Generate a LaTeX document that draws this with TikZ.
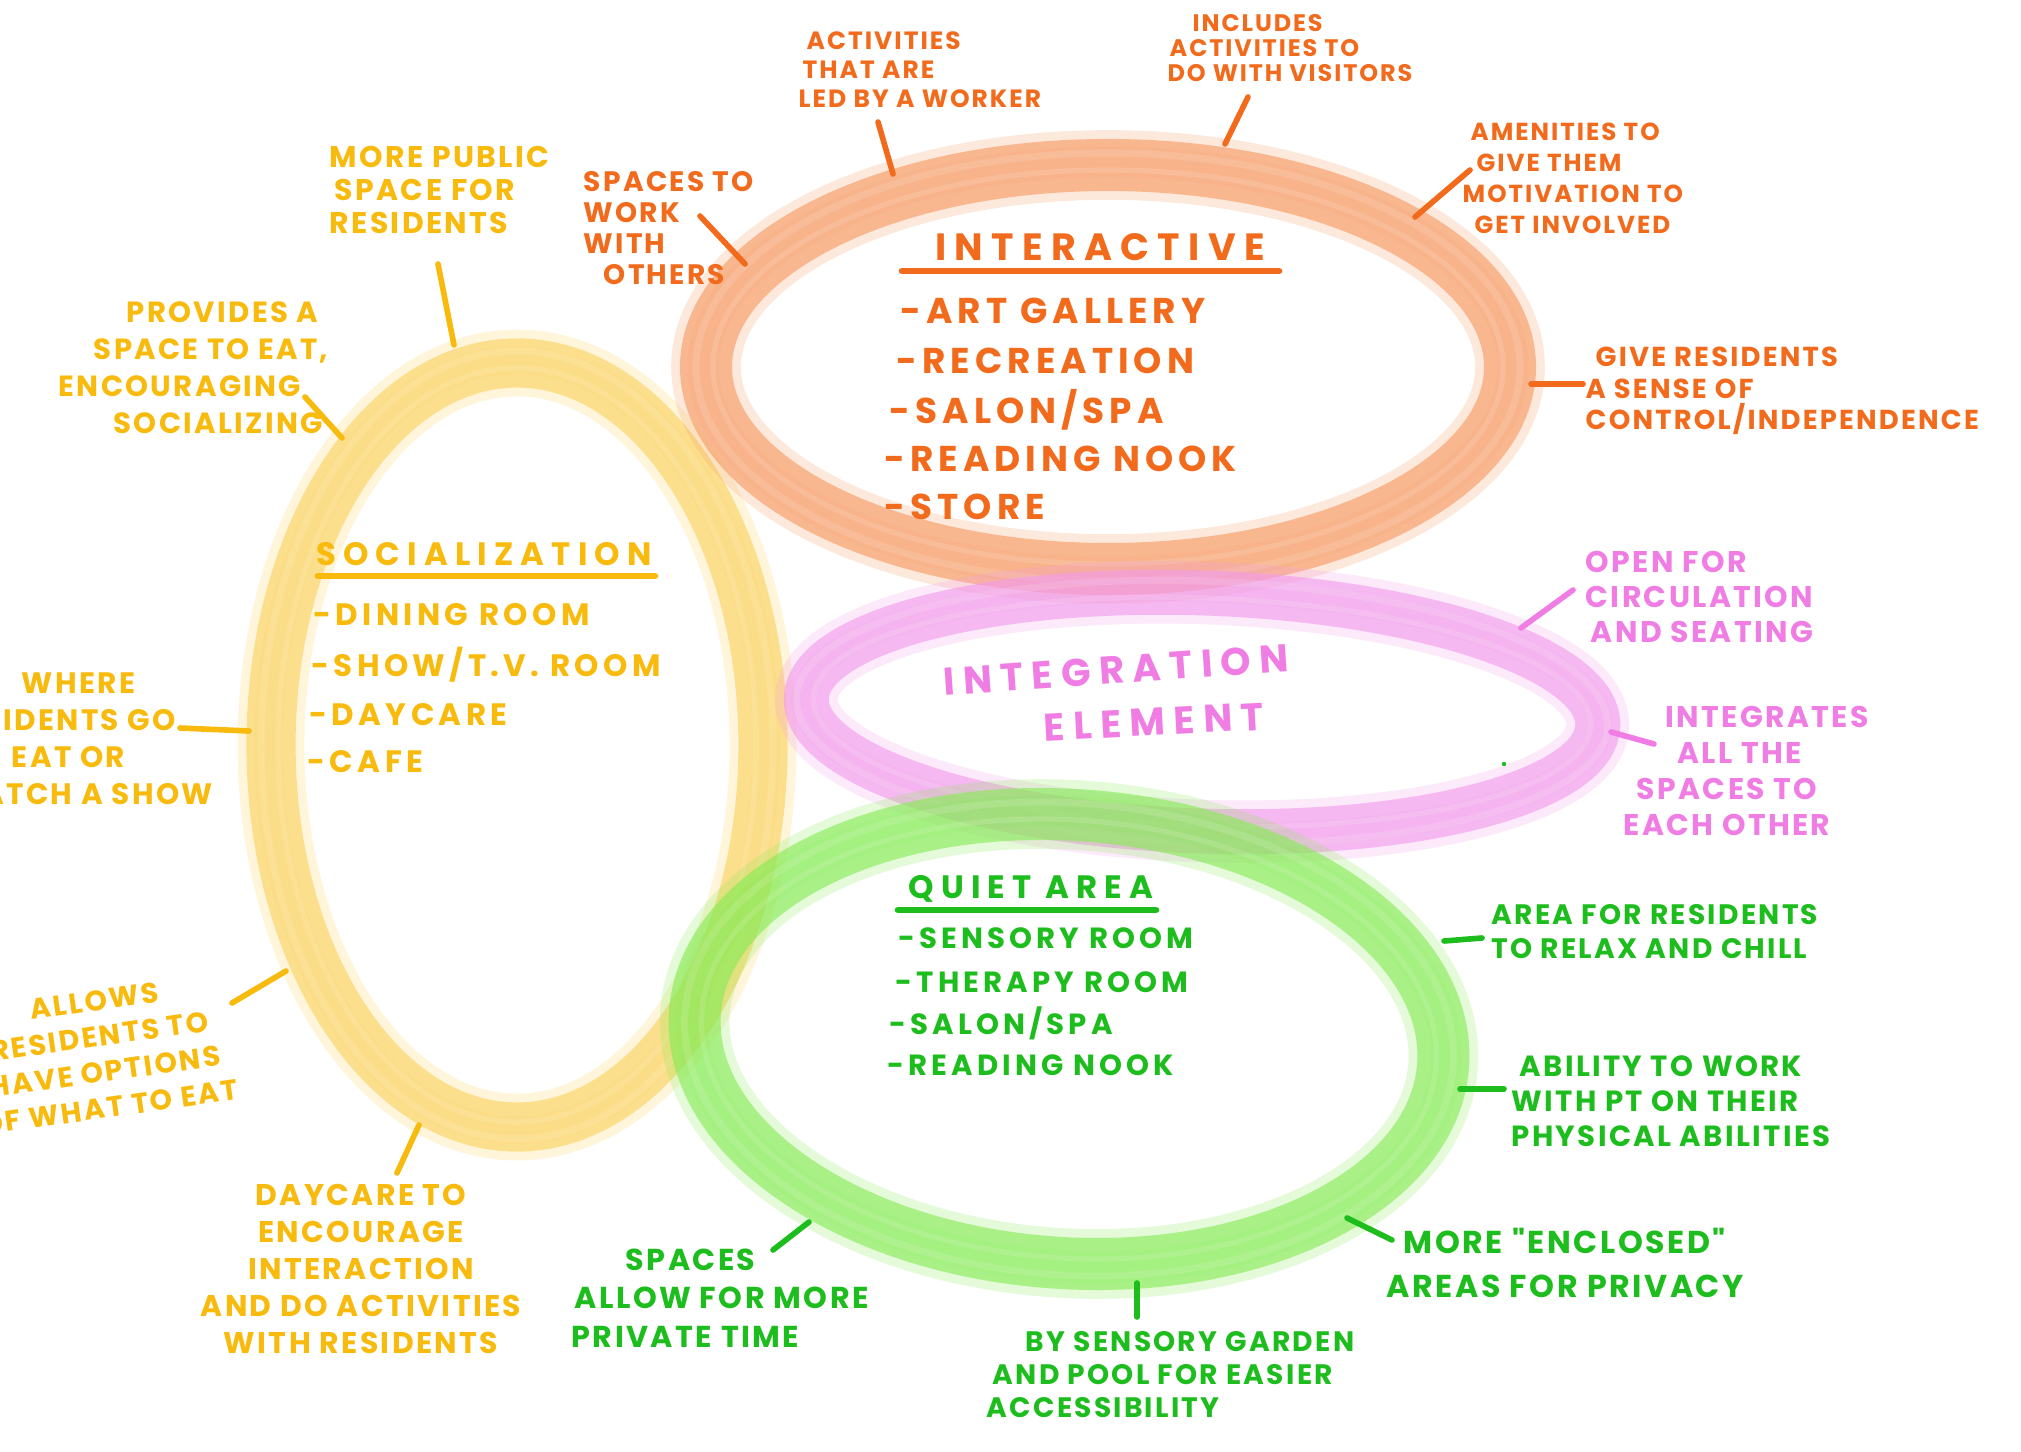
\documentclass[tikz,border=0pt]{standalone}
\usepackage{fontspec}
\setmainfont{Poppins}
\newfontfamily\handfont[LetterSpace=8]{Poppins}
\newfontfamily\listfont[LetterSpace=14]{Poppins}
\newfontfamily\headfont[LetterSpace=22]{Poppins}
\newcommand\labsz[2]{\handfont\bfseries\fontsize{#1}{#2}\selectfont}
\newcommand\listsz[1]{\listfont\bfseries\fontsize{#1}{#1}\selectfont}
\newcommand\headsz[1]{\headfont\bfseries\fontsize{#1}{#1}\selectfont}
\definecolor{ringY}{HTML}{FCD35E}
\definecolor{ringO}{HTML}{F79A62}
\definecolor{ringP}{HTML}{F39BEC}
\definecolor{ringG}{HTML}{86EC55}
\definecolor{txtY}{HTML}{F8BA0C}
\definecolor{txtO}{HTML}{F26A1C}
\definecolor{txtP}{HTML}{EF7DE3}
\definecolor{txtG}{HTML}{1EBD1E}
% crayon ring: colour, cx, cy, rx, ry, width (pt), rotation
\newcommand\crayonring[7]{%
  \begin{scope}[rotate around={#7:(#2,#3)}]
    \draw[#1, line width=#6pt+5pt, opacity=0.22] (#2,#3) ellipse [x radius=#4, y radius=#5];
    \draw[#1, line width=#6pt, opacity=0.62] (#2,#3) ellipse [x radius=#4, y radius=#5];
    \draw[#1, line width=#6pt-6pt, opacity=0.12] (#2,#3) ellipse [x radius=#4+3, y radius=#5+3];
    \draw[white, line width=2pt, opacity=0.12] (#2,#3) ellipse [x radius=#4+10, y radius=#5+12];
    \draw[white, line width=1.5pt, opacity=0.12] (#2,#3) ellipse [x radius=#4-7, y radius=#5-5];
  \end{scope}}
\tikzset{
  lab/.style={inner sep=0pt, align=left},
  conn/.style={line width=1.6pt, line cap=round},
  uline/.style={line width=1.9pt, line cap=round},
}
\begin{document}
\begin{tikzpicture}[x=0.01cm, y=-0.01cm]
\useasboundingbox (0,0) rectangle (2021,1452);
\fill[white] (0,0) rectangle (2021,1452);
\clip (0,0) rectangle (2021,1452);

% ---------- rings ----------
\crayonring{ringY}{517}{745}{246}{382}{14}{0}
\crayonring{ringO}{1108}{367}{402}{202}{14.8}{0}
\crayonring{ringP}{1202}{712}{396}{119}{12.8}{-2}
\crayonring{ringG}{1069}{1039}{375}{224}{14.8}{-4}
\fill[txtG] (1504,764) circle (2.2);

% ---------- Interactive (orange) ----------
\node[lab, text=txtO, font={\headsz{10.8}}] (interT) at (1100,247) {INTERACTIVE};
\coordinate (interUa) at (902,271);
\coordinate (interUb) at (1279,271);
\draw[uline, txtO] (interUa) -- (interUb);
\node[lab, text=txtO, font={\listsz{10.2}}, anchor=west] (i1) at (900,311) {-ART GALLERY};
\node[lab, text=txtO, font={\listsz{10.2}}, anchor=west] (i2) at (896,361) {-RECREATION};
\node[lab, text=txtO, font={\listsz{10.2}}, anchor=west] (i3) at (889,410) {-SALON/SPA};
\node[lab, text=txtO, font={\listsz{10.2}}, anchor=west] (i4) at (884,459) {-READING NOOK};
\node[lab, text=txtO, font={\listsz{10.2}}, anchor=west] (i5) at (884,507) {-STORE};

\node[lab, text=txtO, font={\labsz{8}{8.8}}, anchor=west] (spacesto) at (583,228) {SPACES TO\\WORK\\WITH\\\hspace{0.2cm}OTHERS};
\node[lab, text=txtO, font={\labsz{7.1}{8.2}}, anchor=west] (ledby) at (798,70) {\hspace{0.08cm}ACTIVITIES\\\hspace{0.04cm}THAT ARE\\LED BY A WORKER};
\node[lab, text=txtO, font={\labsz{6.8}{7.2}}, anchor=west] (includes) at (1167,48) {\hspace{0.25cm}INCLUDES\\\hspace{0.02cm}ACTIVITIES TO\\DO WITH VISITORS};
\node[lab, text=txtO, font={\labsz{7}{8.8}}, anchor=west] (amenities) at (1462,178) {\hspace{0.08cm}AMENITIES TO\\\hspace{0.14cm}GIVE THEM\\MOTIVATION TO\\\hspace{0.12cm}GET INVOLVED};
\node[lab, text=txtO, font={\labsz{7.8}{9}}, anchor=west] (giveres) at (1585,391) {\hspace{0.1cm}GIVE RESIDENTS\\A SENSE OF\\CONTROL/INDEPENDENCE};

\coordinate (cs1) at (700,216);  \coordinate (cs2) at (745,264);
\coordinate (cl1) at (878,122);  \coordinate (cl2) at (893,174);
\coordinate (ci1) at (1248,97);  \coordinate (ci2) at (1225,144);
\coordinate (ca1) at (1470,170); \coordinate (ca2) at (1415,217);
\coordinate (cg1) at (1583,384); \coordinate (cg2) at (1531,384);
\draw[conn, txtO] (cs1) -- (cs2);
\draw[conn, txtO] (cl1) -- (cl2);
\draw[conn, txtO] (ci1) -- (ci2);
\draw[conn, txtO] (ca1) -- (ca2);
\draw[conn, txtO] (cg1) -- (cg2);

% ---------- Socialization (yellow) ----------
\node[lab, text=txtY, font={\headsz{9.2}}] (socT) at (484,554) {SOCIALIZATION};
\coordinate (socUa) at (318,576);
\coordinate (socUb) at (655,576);
\draw[uline, txtY] (socUa) -- (socUb);
\node[lab, text=txtY, font={\listsz{8.8}}, anchor=west] (s1) at (313,615) {-DINING ROOM};
\node[lab, text=txtY, font={\listsz{8.8}}, anchor=west] (s2) at (311,665) {-SHOW/T.V. ROOM};
\node[lab, text=txtY, font={\listsz{8.8}}, anchor=west] (s3) at (309,715) {-DAYCARE};
\node[lab, text=txtY, font={\listsz{8.8}}, anchor=west] (s4) at (307,762) {-CAFE};

\node[lab, text=txtY, font={\labsz{8.5}{9.4}}, anchor=west] (morepub) at (329,190) {MORE PUBLIC\\\hspace{0.05cm}SPACE FOR\\RESIDENTS};
\node[lab, text=txtY, font={\labsz{8.3}{10.5}}, anchor=west] (provides) at (58,368) {\hspace{0.68cm}PROVIDES A\\\hspace{0.35cm}SPACE TO EAT,\\ENCOURAGING\\\hspace{0.55cm}SOCIALIZING};
\node[lab, text=txtY, font={\labsz{8.4}{10.5}}, anchor=west] (where) at (-62,739) {\hspace{0.83cm}WHERE\\\hspace{0.04cm}RESIDENTS GO\\\hspace{0.73cm}EAT OR\\\hspace{0.1cm}WATCH A SHOW};
\node[lab, align=center, text=txtY, font={\labsz{8.1}{10.2}}, rotate=8] (allows) at (102,1054) {ALLOWS\\RESIDENTS TO\\HAVE OPTIONS\\OF WHAT TO EAT};
\node[lab, align=center, text=txtY, font={\labsz{8.5}{10.5}}] (daycare) at (361,1269) {DAYCARE TO\\ENCOURAGE\\INTERACTION\\AND DO ACTIVITIES\\WITH RESIDENTS};

\coordinate (cm1) at (438,264);  \coordinate (cm2) at (454,345);
\coordinate (cp1) at (305,397);  \coordinate (cp2) at (342,438);
\coordinate (cw1) at (180,728);  \coordinate (cw2) at (249,731);
\coordinate (cal1) at (232,1003); \coordinate (cal2) at (286,971);
\coordinate (cd1) at (397,1173); \coordinate (cd2) at (419,1125);
\draw[conn, txtY] (cm1) -- (cm2);
\draw[conn, txtY] (cp1) -- (cp2);
\draw[conn, txtY] (cw1) -- (cw2);
\draw[conn, txtY] (cal1) -- (cal2);
\draw[conn, txtY] (cd1) -- (cd2);

% ---------- Integration (pink) ----------
\node[lab, text=txtP, font={\headsz{11}}, rotate=4] (intT) at (1116,670) {INTEGRATION};
\node[lab, text=txtP, font={\headsz{11}}, rotate=3] (intE) at (1154,722) {ELEMENT};
\node[lab, text=txtP, font={\labsz{8.5}{10}}, anchor=west] (openfor) at (1585,597) {OPEN FOR\\CIRCULATION\\\hspace{0.05cm}AND SEATING};
\node[lab, align=center, text=txtP, font={\labsz{8.5}{10.2}}] (integrates) at (1727,771) {\hspace{0.8cm}INTEGRATES\\\hspace{0.25cm}ALL THE\\SPACES TO\\EACH OTHER};
\coordinate (co1) at (1573,590); \coordinate (co2) at (1521,628);
\coordinate (cn1) at (1654,744); \coordinate (cn2) at (1611,732);
\draw[conn, txtP] (co1) -- (co2);
\draw[conn, txtP] (cn1) -- (cn2);

% ---------- Quiet area (green) ----------
\node[lab, text=txtG, font={\headsz{9.2}}] (quietT) at (1031,889) {QUIET AREA};
\coordinate (qUa) at (898,910);
\coordinate (qUb) at (1156,910);
\draw[uline, txtG] (qUa) -- (qUb);
\node[lab, text=txtG, font={\listsz{8.3}}, anchor=west] (q1) at (898,938) {-SENSORY ROOM};
\node[lab, text=txtG, font={\listsz{8.3}}, anchor=west] (q2) at (895,982) {-THERAPY ROOM};
\node[lab, text=txtG, font={\listsz{8.3}}, anchor=west] (q3) at (889,1023) {-SALON/SPA};
\node[lab, text=txtG, font={\listsz{8.3}}, anchor=west] (q4) at (887,1065) {-READING NOOK};

\node[lab, text=txtG, font={\labsz{8}{9.7}}, anchor=west] (areafor) at (1491,932) {AREA FOR RESIDENTS\\TO RELAX AND CHILL};
\node[lab, text=txtG, font={\labsz{8.3}{10}}, anchor=west] (ability) at (1511,1101) {\hspace{0.08cm}ABILITY TO WORK\\WITH PT ON THEIR\\PHYSICAL ABILITIES};
\node[lab, text=txtG, font={\labsz{9}{12.5}}, anchor=west] (enclosed) at (1386,1263) {\hspace{0.17cm}MORE "ENCLOSED"\\AREAS FOR PRIVACY};
\node[lab, text=txtG, font={\labsz{8}{9.4}}, anchor=west] (bysens) at (986,1375) {\hspace{0.39cm}BY SENSORY GARDEN\\\hspace{0.06cm}AND POOL FOR EASIER\\ACCESSIBILITY};
\node[lab, text=txtG, font={\labsz{8.6}{11}}, anchor=west] (spacesallow) at (571,1298) {\hspace{0.54cm}SPACES\\\hspace{0.03cm}ALLOW FOR MORE\\PRIVATE TIME};

\coordinate (cr1) at (1482,938);  \coordinate (cr2) at (1444,941);
\coordinate (cb1) at (1504,1089); \coordinate (cb2) at (1460,1089);
\coordinate (ce1) at (1392,1240); \coordinate (ce2) at (1347,1218);
\coordinate (cy1) at (1137,1317); \coordinate (cy2) at (1137,1283);
\coordinate (cq1) at (773,1250);  \coordinate (cq2) at (809,1222);
\draw[conn, txtG] (cr1) -- (cr2);
\draw[conn, txtG] (cb1) -- (cb2);
\draw[conn, txtG] (ce1) -- (ce2);
\draw[conn, txtG] (cy1) -- (cy2);
\draw[conn, txtG] (cq1) -- (cq2);
\end{tikzpicture}
\end{document}
